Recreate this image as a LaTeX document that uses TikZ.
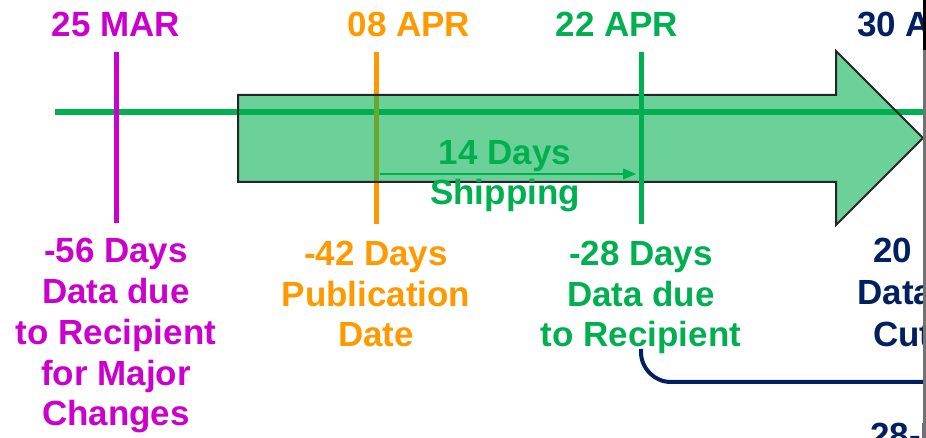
\documentclass[tikz,border=0pt]{standalone}
\usepackage{fontspec}
\setmainfont{Liberation Sans}
\usepackage{tikz}
\usetikzlibrary{arrows.meta}
\definecolor{mag}{HTML}{CC00CC}
\definecolor{org}{HTML}{FF9900}
\definecolor{grn}{HTML}{00B050}
\definecolor{nvy}{HTML}{002060}
\tikzstyle{dt}=[font=\fontsize{19.9}{23}\selectfont\bfseries,
                inner sep=0pt,
                anchor=base]
\tikzstyle{lbl}=[font=\fontsize{19.9}{23.2}\selectfont\bfseries,
                 inner sep=0pt,
                 align=center,
                 anchor=base]
\tikzstyle{vl}=[line width=0.1cm]

\begin{document}
\begin{tikzpicture}[>=stealth,x=0.02cm,y=-0.02cm]
\useasboundingbox (0,0) rectangle (926,438);
\clip (0,0) rectangle (926,438);

% time line
\coordinate (t0) at (55,112);
\coordinate (t1) at (940,112);
\draw[grn,line width=0.12cm] (t0) -- (t1);

% date markers
\coordinate (m1a) at (116,52);
\coordinate (m1b) at (116,223);
\coordinate (m2a) at (376,52);
\coordinate (m2b) at (376,224);
\coordinate (m3a) at (641,52);
\coordinate (m3b) at (641,224);
\draw[vl,mag] (m1a) -- (m1b);
\draw[vl,org] (m2a) -- (m2b);

% big arrow
\draw[black!85,line width=0.04cm,fill=grn,fill opacity=0.58]
  (238,95) -- (836,95) -- (836,51) -- (923,138) -- (836,225) -- (836,182) -- (238,182) -- cycle;
\draw[vl,grn] (m3a) -- (m3b);

% dates
\node[dt,mag] (d1) at (116,37) {25 MAR};
\node[dt,org] (d2) at (409,37) {08 APR};
\node[dt,grn] (d3) at (617,37) {22 APR};
\node[dt,nvy,anchor=base west] (d4) at (857,37) {30 APR};

% shipping
\node[lbl,grn] (s) at (505,205) {14 Days\\Shipping};
\coordinate (s0) at (380,174);
\coordinate (s1) at (636,174);
\draw[-{Triangle[length=0.26cm,width=0.22cm]},grn,line width=0.03cm] (s0) -- (s1);

% labels (anchored on last line)
\node[lbl,mag] (l1) at (116,426) {-56 Days\\Data due\\to Recipient\\for Major\\Changes};
\node[lbl,org] (l2) at (376,347) {-42 Days\\Publication\\Date};
\node[lbl,grn] (l3) at (641,347) {-28 Days\\Data due\\to Recipient};
\node[dt,nvy,anchor=base west] (l4a) at (873,263) {20 Days};
\node[dt,nvy,anchor=base west] (l4b) at (857,305) {Data};
\node[dt,nvy,anchor=base west] (l4c) at (873,347) {Cutoff};
\node[dt,nvy,anchor=base west] (l5) at (870,448) {28-Day};

% bracket
\coordinate (b0) at (641,349);
\coordinate (b1) at (940,382);
\draw[nvy,line width=0.08cm,rounded corners=0.6cm] (b0) |- (b1);

% edge
\draw[black,line width=0.05cm] (924.5,0) -- (924.5,50);
\draw[black!55,line width=0.05cm] (924.5,50) -- (924.5,438);

\end{tikzpicture}
\end{document}
